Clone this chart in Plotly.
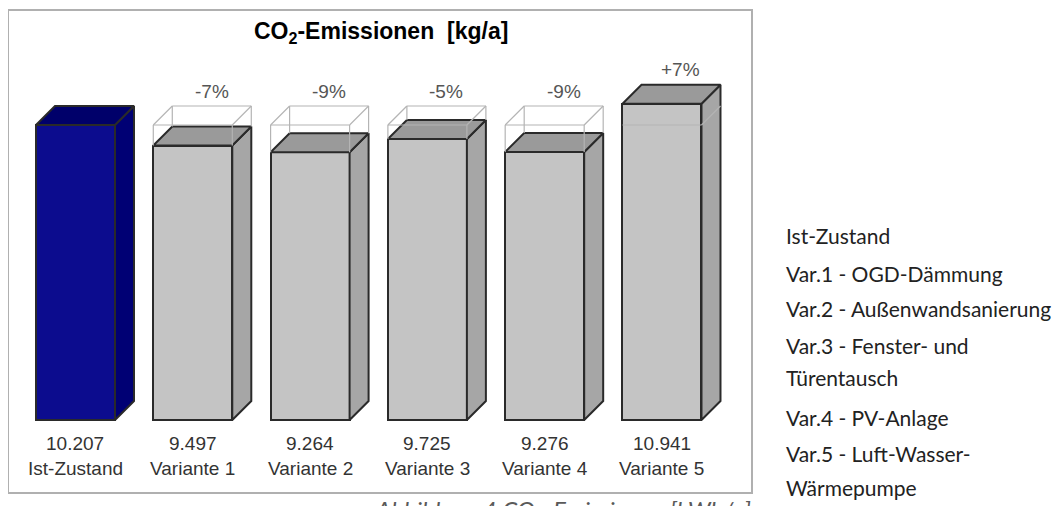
import plotly.graph_objects as go

# ---- data ----
categories = ["Ist-Zustand", "Variante 1", "Variante 2", "Variante 3", "Variante 4", "Variante 5"]
values = [10207, 9497, 9264, 9725, 9276, 10941]
pct_labels = ["", "-7%", "-9%", "-5%", "-9%", "+7%"]
legend_lines = ["Ist-Zustand", "Var.1 - OGD-Dämmung", "Var.2 - Außenwandsanierung",
                "Var.3 - Fenster- und", "Türentausch", "Var.4 - PV-Anlage",
                "Var.5 - Luft-Wasser-", "Wärmepumpe"]
legend_y_px = [235, 273, 308, 345, 377, 417, 453, 487]

OFF = 8  # page body margin
W, H = 1062 - OFF, 506 - OFF
ML, MT = 8 - OFF, 10 - OFF
MR = W - (752 - OFF)
MB = H - (493 - OFF)
plot_w = W - ML - MR
plot_h = H - MT - MB


def px_x(p):
    return (p - OFF - ML) / plot_w


def px_y(p):
    return 1 - (p - OFF - MT) / plot_h


# scales
x_px_per_unit = 117.3
y_px_per_unit = 0.0289
x0 = -0.5754
x1 = x0 + plot_w / x_px_per_unit
y_base_px = 420 - OFF
y0 = -(H - MB - y_base_px) / y_px_per_unit
y1 = (y_base_px - MT) / y_px_per_unit

bw = 79 / x_px_per_unit
dx = 19 / x_px_per_unit
dy = 19 / y_px_per_unit

ref = values[0]
xs = list(range(len(categories)))

front_cols = ["#0c0c8e"] + ["#c4c4c4"] * 5
top_cols = ["#00006a"] + ["#9a9a9a"] * 5
side_cols = ["#000074"] + ["#a6a6a6"] * 5
edge = "#2a2a2a"

fig = go.Figure()

fig.add_trace(go.Bar(x=xs, y=values, width=bw, marker=dict(color=front_cols, line=dict(color=edge, width=2)),
                     hoverinfo="skip", showlegend=False))

for i, v in zip(xs, values):
    l, r = i - bw / 2, i + bw / 2
    fig.add_trace(go.Scatter(x=[r, r + dx, r + dx, r, r], y=[0, dy, v + dy, v, 0],
                             fill="toself", fillcolor=side_cols[i], mode="lines",
                             line=dict(color=edge, width=2), hoverinfo="skip", showlegend=False))
    fig.add_trace(go.Scatter(x=[l, r, r + dx, l + dx, l], y=[v, v, v + dy, v + dy, v],
                             fill="toself", fillcolor=top_cols[i], mode="lines",
                             line=dict(color=edge, width=2), hoverinfo="skip", showlegend=False))

gx, gy = [], []
for i, v in zip(xs, values):
    if i == 0:
        continue
    l, r = i - bw / 2, i + bw / 2
    if v < ref:
        segs = [((l, ref), (r, ref)), ((l + dx, ref + dy), (r + dx, ref + dy)),
                ((l, ref), (l + dx, ref + dy)), ((r, ref), (r + dx, ref + dy)),
                ((l, v), (l, ref)), ((r, v), (r, ref)),
                ((l + dx, v + dy), (l + dx, ref + dy)), ((r + dx, v + dy), (r + dx, ref + dy))]
    else:
        segs = [((l, ref), (r, ref)), ((r, ref), (r + dx, ref + dy))]
    for (a, b) in segs:
        gx += [a[0], b[0], None]
        gy += [a[1], b[1], None]
fig.add_trace(go.Scatter(x=gx, y=gy, mode="lines", line=dict(color="#b4b4b4", width=1.2),
                         hoverinfo="skip", showlegend=False))

font_chart = "Liberation Sans, Arial, sans-serif"
ann = []
for i, v in zip(xs, values):
    ann.append(dict(x=i, y=0, xref="x", yref="y", yanchor="middle", yshift=-23, showarrow=False,
                    text=f"{v:,}".replace(",", "."), font=dict(family=font_chart, size=19, color="#333333")))
    ann.append(dict(x=i, y=0, xref="x", yref="y", yanchor="middle", yshift=-48, showarrow=False,
                    text=categories[i], font=dict(family=font_chart, size=19, color="#333333")))
    if pct_labels[i]:
        ann.append(dict(x=i + dx, y=max(v, ref) + dy, xref="x", yref="y", yanchor="middle", yshift=15,
                        showarrow=False, text=pct_labels[i],
                        font=dict(family=font_chart, size=19, color="#555555")))

ann.append(dict(x=px_x(381), y=px_y(32), xref="paper", yref="paper", xanchor="center",
                yanchor="middle", showarrow=False,
                text="<b>CO<sub>2</sub>-Emissionen  [kg/a]</b>",
                font=dict(family=font_chart, size=23, color="#000000")))

for t, ypx in zip(legend_lines, legend_y_px):
    ann.append(dict(x=px_x(784), y=px_y(ypx), xref="paper", yref="paper", xanchor="left",
                    yanchor="middle", align="left", showarrow=False, text=t,
                    font=dict(family="Lato, sans-serif", size=21, color="#222222")))

ann.append(dict(x=px_x(753), y=px_y(493), xref="paper", yref="paper", xanchor="right", yanchor="top",
                showarrow=False, text="<i>Abbildung 4 CO<sub>2</sub>-Emissionen [kWh/a]</i>",
                font=dict(family="Lato, sans-serif", size=24, color="#5a5a5a")))

fig.update_layout(
    width=W, height=H, margin=dict(l=ML, r=MR, t=MT, b=MB),
    paper_bgcolor="white", plot_bgcolor="white",
    xaxis=dict(range=[x0, x1], visible=False, fixedrange=True),
    yaxis=dict(range=[y0, y1], visible=False, fixedrange=True),
    annotations=ann, bargap=0,
    shapes=[dict(type="rect", xref="paper", yref="paper", x0=0, x1=1, y0=0, y1=1,
                 line=dict(color="#b0b0b0", width=2), fillcolor="rgba(0,0,0,0)", layer="above")],
)

fig.write_html("out.html")
